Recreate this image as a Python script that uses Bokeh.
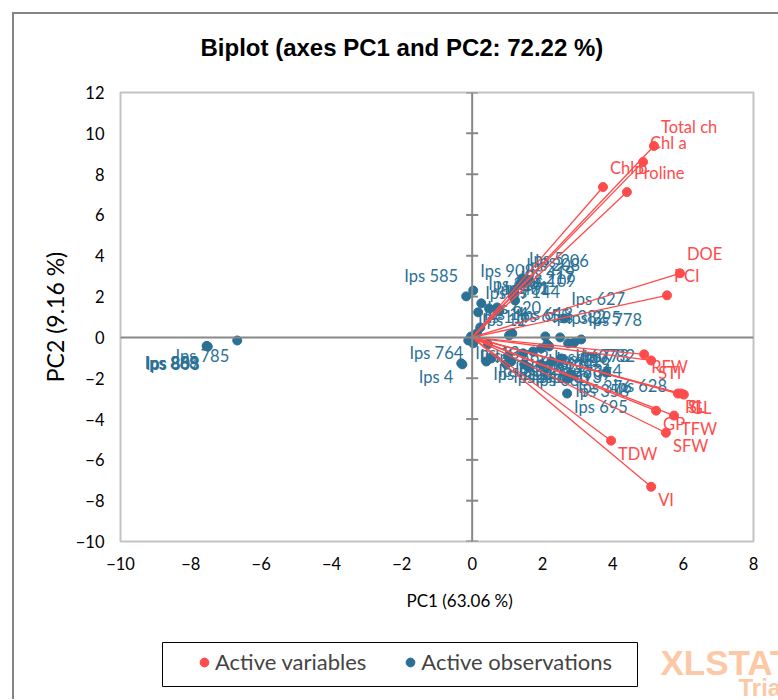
from bokeh.plotting import figure
from bokeh.layouts import column
from bokeh.models import (ColumnDataSource, Span, Label, Legend, LegendItem,
                          Range1d, FixedTicker, Title, BoxAnnotation)
from bokeh.core.properties import value
from bokeh.embed import file_html
from bokeh.resources import INLINE

# ---------------- data ----------------
title_text = "Biplot (axes PC1 and PC2: 72.22 %)"
x_title = "PC1 (63.06 %)"
y_title = "PC2 (9.16 %)"
x_ticks = [-10, -8, -6, -4, -2, 0, 2, 4, 6, 8]
y_ticks = [-10, -8, -6, -4, -2, 0, 2, 4, 6, 8, 10, 12]

var_names = ["Total ch", "Chl a", "Chl b", "Proline", "DOE", "PCI", "RFW", "STI",
             "RL", "SL", "GL", "GP", "TFW", "SFW", "TDW", "VI"]
var_pc1 = [5.17, 4.86, 3.72, 4.40, 5.91, 5.54, 4.89, 5.09,
           5.85, 5.94, 6.02, 5.23, 5.74, 5.51, 3.95, 5.09]
var_pc2 = [9.38, 8.60, 7.37, 7.12, 3.14, 2.06, -0.83, -1.13,
           -2.75, -2.75, -2.80, -3.59, -3.83, -4.67, -5.06, -7.32]

obs_names = ["Ips 585", "Ips 908", "Ips 5", "Ips 208", "Ips 206", "Ips 419", "Ips 217",
             "Ips 109", "Ips 91", "Ips 401", "Ips 316", "Ips 77", "Ips 627", "Ips 620",
             "Ips 655", "Ips 618", "Ips 382", "Ips 295", "Ips 11", "Ips 12", "Ips 13",
             "Ips 14", "Ips 15", "Ips 764", "Ips 4", "Ips 778", "Ips 782", "Ips 773",
             "Ips 562", "Ips 512", "Ips 530", "Ips 541", "Ips 603", "Ips 611", "Ips 634",
             "Ips 652", "Ips 660", "Ips 671", "Ips 680", "Ips 693", "Ips 314", "Ips 628",
             "Ips 358", "Ips 695", "Ips 376", "Ips 707", "Ips 716", "Ips 144", "Ips 528",
             "Ips 785", "Ips 883", "Ips 888", "Ips 803", "Ips 869"]
obs_pc1 = [-0.17, 0.03, 1.42, 1.34, 1.59, 1.19, 1.17, 1.22, 0.71, 0.48, 0.26, 0.17,
           2.62, 0.23, 1.05, 1.14, 2.08, 2.50, -0.03, 0.09, -0.11, 0.14, 0.03,
           -0.31, -0.28, 3.10, 2.90, 2.73, 0.45, 0.40, 0.54, 0.97, 1.11, 1.45, 1.73,
           1.96, 2.13, 1.48, 1.59, 1.96, 2.53, 3.81, 2.73, 2.70, 2.81, 2.25, 2.19,
           0.77, 1.02, -6.68, -7.53, -7.55, -7.52, -7.54]
obs_pc2 = [2.01, 2.30, 2.89, 2.60, 2.79, 2.21, 1.96, 1.81, 1.47, 1.42, 1.67, 1.23,
           0.93, 0.49, 0.10, 0.20, 0.05, 0.00, 0.05, -0.10, -0.15, 0.20, -0.29,
           -1.27, -1.32, -0.10, -0.25, -0.29, -0.34, -1.18, -1.03, -1.32, -1.18,
           -0.78, -0.69, -0.54, -0.34, -1.32, -1.47, -1.32, -1.03, -1.72, -2.01,
           -2.75, -1.81, -1.18, -0.44, 1.27, -0.93, -0.15, -0.44, -0.42, -0.45, -0.43]

legend_labels = ["Active variables", "Active observations"]
watermark = ["XLSTAT", "Trial"]

# label placement (pixels): names drawn to the left of their point
left_labels = {"Ips 585": (-8, -20), "Ips 764": (2, -10), "Ips 4": (-9, 13),
               "Ips 785": (-8, 16), "Ips 883": (-8, 17), "Ips 888": (-8, 17),
               "Ips 803": (-8, 17), "Ips 869": (-8, 17)}

RED = "#FF4B4B"
BLUE = "#2B7196"
FONT = "Lato"
W = 764  # content width inside the chart frame


def label_layout(names, ys):
    dx, dy, al = [], [], []
    for n, yv in zip(names, ys):
        if n in left_labels:
            ox, oy = left_labels[n]
            dx.append(ox); dy.append(oy); al.append("right")
        else:
            dx.append(7); dy.append(-19 if yv > -0.12 else 13); al.append("left")
    return dx, dy, al


def strip(height):
    f = figure(width=W, height=height, x_range=Range1d(0, 1), y_range=Range1d(0, 1),
               output_backend="svg", toolbar_location=None, min_border=0,
               x_axis_location=None, y_axis_location=None)
    f.frame_align = False
    f.grid.visible = False
    f.outline_line_color = None
    f.background_fill_color = "white"
    f.border_fill_color = "white"
    return f


vdx, vdy, val = label_layout(var_names, var_pc2)
odx, ody, oal = label_layout(obs_names, obs_pc2)

var_src = ColumnDataSource(dict(x=var_pc1, y=var_pc2, name=var_names, dx=vdx, dy=vdy, al=val,
                                x0=[0] * len(var_pc1), y0=[0] * len(var_pc2)))
obs_src = ColumnDataSource(dict(x=obs_pc1, y=obs_pc2, name=obs_names, dx=odx, dy=ody, al=oal))

# ---------------- title strip ----------------
r = strip(58)
r.add_layout(Label(x=186, y=25, x_units="screen", y_units="screen", text=title_text,
                   text_align="left", text_baseline="middle", text_font="Liberation Sans",
                   text_font_style="bold", text_font_size="24px", text_color="black"))

# ---------------- main plot ----------------
FW, FH = 633, 449
p = figure(frame_width=FW, frame_height=FH,
           x_range=Range1d(x_ticks[0], x_ticks[-1]), y_range=Range1d(y_ticks[0], y_ticks[-1]),
           output_backend="svg", toolbar_location=None,
           min_border_left=106, min_border_right=W - 106 - FW, min_border_top=20,
           min_border_bottom=86)
p.frame_align = False
p.title.text = ""
p.background_fill_color = "white"
p.border_fill_color = "white"
p.outline_line_color = "#C3C3C3"
p.outline_line_width = 2
p.grid.visible = False

for ax in (p.xaxis[0], p.yaxis[0]):
    ax.axis_line_color = None
    ax.major_tick_line_color = None
    ax.minor_tick_line_color = None
    ax.major_tick_in = 0
    ax.major_tick_out = 0
    ax.major_label_text_font = FONT
    ax.major_label_text_font_size = "16.5px"
    ax.major_label_text_color = "black"
p.xaxis[0].ticker = FixedTicker(ticks=x_ticks)
p.yaxis[0].ticker = FixedTicker(ticks=y_ticks)
p.xaxis[0].major_label_standoff = 15
p.yaxis[0].major_label_standoff = 16

p.add_layout(Title(text=x_title, align="left", offset=286, standoff=30, text_font=FONT,
                   text_font_size="17px", text_font_style="normal", text_color="black"), "below")
p.add_layout(Title(text=y_title, align="center", standoff=8, text_font=FONT,
                   text_font_size="23px", text_font_style="normal", text_color="black"), "left")

# zero axes
p.add_layout(Span(location=0, dimension="height", line_color="#878787", line_width=2))
p.add_layout(Span(location=0, dimension="width", line_color="#878787", line_width=2))
half = 6 * (x_ticks[-1] - x_ticks[0]) / FW
p.segment(x0=[-half] * len(y_ticks), x1=[half] * len(y_ticks), y0=y_ticks, y1=y_ticks,
          line_color="#878787", line_width=2)

# observations
p.scatter("x", "y", source=obs_src, size=9, color=BLUE)
p.text("x", "y", text="name", source=obs_src, x_offset="dx", y_offset="dy", text_align="al",
       text_baseline="middle", text_font=value(FONT), text_font_size="16.5px", text_color=BLUE)

# variables
p.segment("x0", "y0", "x", "y", source=var_src, line_color=RED, line_width=1.3)
p.scatter("x", "y", source=var_src, size=9, color=RED)
p.text("x", "y", text="name", source=var_src, x_offset="dx", y_offset="dy", text_align="al",
       text_baseline="middle", text_font=value(FONT), text_font_size="16.5px", text_color=RED)

# ---------------- legend strip ----------------
q = strip(72)
nan = float("nan")
lv = q.scatter(x=[nan], y=[nan], size=10, color=RED)
lo = q.scatter(x=[nan], y=[nan], size=10, color=BLUE)
q.add_layout(BoxAnnotation(left=148, right=623, top=57, bottom=13, left_units="screen",
                           right_units="screen", top_units="screen", bottom_units="screen",
                           fill_color="white", fill_alpha=1, line_color="black",
                           line_width=1, line_alpha=1))
legend = Legend(items=[LegendItem(label=legend_labels[0], renderers=[lv]),
                       LegendItem(label=legend_labels[1], renderers=[lo])],
                location=(179, 24), orientation="horizontal", padding=10, spacing=33,
                glyph_width=22, glyph_height=24, label_standoff=0, margin=0,
                label_text_font=FONT, label_text_font_size="22px",
                border_line_color=None, background_fill_alpha=0)
q.add_layout(legend)
q.add_layout(Label(x=646, y=37, x_units="screen", y_units="screen", text=watermark[0],
                   text_align="left", text_baseline="middle", text_font="Liberation Sans",
                   text_font_style="bold", text_font_size="35px", text_color="#FCC8A6"))
q.add_layout(Label(x=724, y=12, x_units="screen", y_units="screen", text=watermark[1],
                   text_align="left", text_baseline="middle", text_font="Liberation Sans",
                   text_font_style="bold", text_font_size="24px", text_color="#FCC8A6"))

layout = column(r, p, q, spacing=0, margin=(12, 0, 0, 12),
                styles={"border-left": "2px solid #858585", "border-top": "2px solid #858585"})

open("out.html", "w").write(file_html(layout, INLINE))
